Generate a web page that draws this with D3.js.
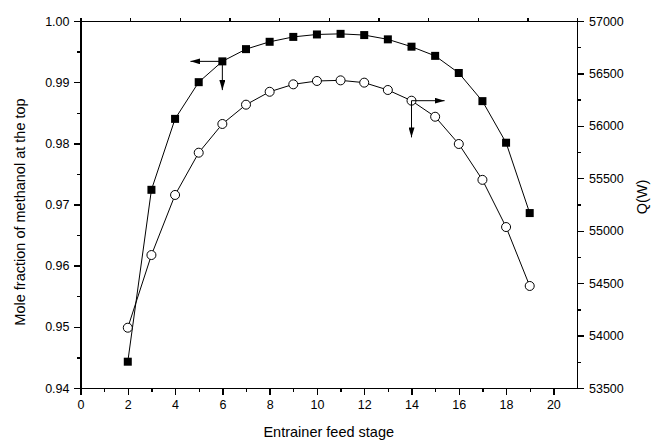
<!DOCTYPE html>
<html>
<head>
<meta charset="utf-8">
<script src="https://cdn.jsdelivr.net/npm/d3@7"></script>
<style>
  body { margin: 0; background: #fff; }
  svg { display: block; font-family: "Liberation Sans", Arial, sans-serif; }
  .axis path, .axis line { stroke: #000; stroke-width: 1.4px; shape-rendering: crispEdges; }
  .axis text { font-size: 12.5px; fill: #000; }
</style>
</head>
<body>
<div class="container"></div>
<script>
// DATA
const stages = [2, 3, 4, 5, 6, 7, 8, 9, 10, 11, 12, 13, 14, 15, 16, 17, 18, 19];
// mole fraction of methanol at the top (left axis, filled squares)
const purity = [0.9443, 0.9724, 0.9840, 0.9900, 0.9934, 0.9954, 0.9966, 0.9974, 0.9978,
                0.9979, 0.9977, 0.9970, 0.9958, 0.9943, 0.9915, 0.9869, 0.9801, 0.9686];
// heat duty Q (right axis, open circles)
const duty = [54075, 54768, 55341, 55744, 56018, 56202, 56325, 56396, 56428,
              56434, 56412, 56342, 56240, 56087, 55827, 55485, 55035, 54473];

const xTicks = [0, 2, 4, 6, 8, 10, 12, 14, 16, 18, 20];
const leftTicks = [0.94, 0.95, 0.96, 0.97, 0.98, 0.99, 1.00];
const rightTicks = [53500, 54000, 54500, 55000, 55500, 56000, 56500, 57000];

// arrows pointing each series to its axis: [stage, value, end stage, end value]
const purityArrows = [[6, 0.9934, 4.65, 0.9934], [6, 0.9934, 6, 0.9887]];
const dutyArrows = [[14, 56240, 15.4, 56240], [14, 56240, 14, 55890]];

// SETUP
const width = 658;
const height = 445;
const margin = {top: 21, right: 81, bottom: 57, left: 80.5};

const svg = d3.select(".container")
  .append("svg")
  .attr("width", width)
  .attr("height", height);

const xScale = d3.scaleLinear().domain([0, 21]).range([margin.left, width - margin.right]);
const yLeft = d3.scaleLinear().domain([0.94, 1.00]).range([height - margin.bottom, margin.top]);
const yRight = d3.scaleLinear().domain([53500, 57000]).range([height - margin.bottom, margin.top]);

// minor ticks
svg.append("g")
  .attr("class", "axis")
  .attr("transform", `translate(0,${height - margin.bottom})`)
  .call(d3.axisBottom(xScale).tickValues(d3.range(1, 21, 2)).tickSize(4).tickFormat(""))
  .call(g => g.select(".domain").remove());
svg.append("g")
  .attr("class", "axis")
  .attr("transform", `translate(${margin.left},0)`)
  .call(d3.axisLeft(yLeft).tickValues(d3.range(0, 6).map(i => 0.945 + i * 0.01)).tickSize(4).tickFormat(""))
  .call(g => g.select(".domain").remove());
svg.append("g")
  .attr("class", "axis")
  .attr("transform", `translate(${width - margin.right},0)`)
  .call(d3.axisRight(yRight).tickValues(d3.range(0, 7).map(i => 53750 + i * 500)).tickSize(4).tickFormat(""))
  .call(g => g.select(".domain").remove());

// top frame
svg.append("g")
  .attr("class", "axis")
  .attr("transform", `translate(0,${margin.top})`)
  .call(d3.axisTop(xScale).tickValues(d3.range(0, 11).map(i => i * 2.1)).tickSize(3).tickSizeOuter(0).tickFormat(""));

// main axes
svg.append("g")
  .attr("class", "axis")
  .attr("transform", `translate(0,${height - margin.bottom})`)
  .call(d3.axisBottom(xScale).tickValues(xTicks).tickSize(7).tickSizeOuter(0).tickPadding(5));

svg.append("g")
  .attr("class", "axis")
  .attr("transform", `translate(${margin.left},0)`)
  .call(d3.axisLeft(yLeft).tickValues(leftTicks).tickSize(7).tickSizeOuter(0).tickPadding(4)
        .tickFormat(d3.format(".2f")));

svg.append("g")
  .attr("class", "axis")
  .attr("transform", `translate(${width - margin.right},0)`)
  .call(d3.axisRight(yRight).tickValues(rightTicks).tickSize(7).tickSizeOuter(0).tickPadding(5)
        .tickFormat(d3.format("d")));

// TITLES
svg.append("text")
  .attr("x", (xScale.range()[0] + xScale.range()[1]) / 2)
  .attr("y", 437)
  .attr("text-anchor", "middle")
  .attr("font-size", "14.5px")
  .text("Entrainer feed stage");

svg.append("text")
  .attr("transform", `translate(25,212) rotate(-90)`)
  .attr("text-anchor", "middle")
  .attr("font-size", "14.5px")
  .text("Mole fraction of methanol at the top");

svg.append("text")
  .attr("transform", `translate(647,197) rotate(-90)`)
  .attr("text-anchor", "middle")
  .attr("font-size", "14.5px")
  .text("Q(W)");

// LINES
const purityLine = d3.line().x((d, i) => xScale(stages[i])).y(d => yLeft(d));
const dutyLine = d3.line().x((d, i) => xScale(stages[i])).y(d => yRight(d));

svg.append("path")
  .datum(purity)
  .attr("d", purityLine)
  .attr("fill", "none")
  .attr("stroke", "#000")
  .attr("stroke-width", 1);

svg.append("path")
  .datum(duty)
  .attr("d", dutyLine)
  .attr("fill", "none")
  .attr("stroke", "#000")
  .attr("stroke-width", 1);

// MARKERS
svg.selectAll("rect.sq")
  .data(purity)
  .enter()
  .append("rect")
  .attr("class", "sq")
  .attr("x", (d, i) => xScale(stages[i]) - 4)
  .attr("y", d => yLeft(d) - 4)
  .attr("width", 8)
  .attr("height", 8)
  .attr("fill", "#000");

svg.selectAll("circle.ci")
  .data(duty)
  .enter()
  .append("circle")
  .attr("class", "ci")
  .attr("cx", (d, i) => xScale(stages[i]))
  .attr("cy", d => yRight(d))
  .attr("r", 4.5)
  .attr("fill", "#fff")
  .attr("stroke", "#000")
  .attr("stroke-width", 1);

// ARROWS
svg.append("defs")
  .append("marker")
  .attr("id", "head")
  .attr("viewBox", "0 0 10 6")
  .attr("refX", 10)
  .attr("refY", 3)
  .attr("markerWidth", 10)
  .attr("markerHeight", 6)
  .attr("markerUnits", "userSpaceOnUse")
  .attr("orient", "auto")
  .append("path")
  .attr("d", "M0,0L10,3L0,6Z")
  .attr("fill", "#000");

svg.selectAll("line.pa")
  .data(purityArrows)
  .enter()
  .append("line")
  .attr("x1", d => xScale(d[0]))
  .attr("y1", d => yLeft(d[1]))
  .attr("x2", d => xScale(d[2]))
  .attr("y2", d => yLeft(d[3]))
  .attr("stroke", "#000")
  .attr("stroke-width", 1)
  .attr("marker-end", "url(#head)");

svg.selectAll("line.da")
  .data(dutyArrows)
  .enter()
  .append("line")
  .attr("x1", d => xScale(d[0]))
  .attr("y1", d => yRight(d[1]))
  .attr("x2", d => xScale(d[2]))
  .attr("y2", d => yRight(d[3]))
  .attr("stroke", "#000")
  .attr("stroke-width", 1)
  .attr("marker-end", "url(#head)");
</script>
</body>
</html>
